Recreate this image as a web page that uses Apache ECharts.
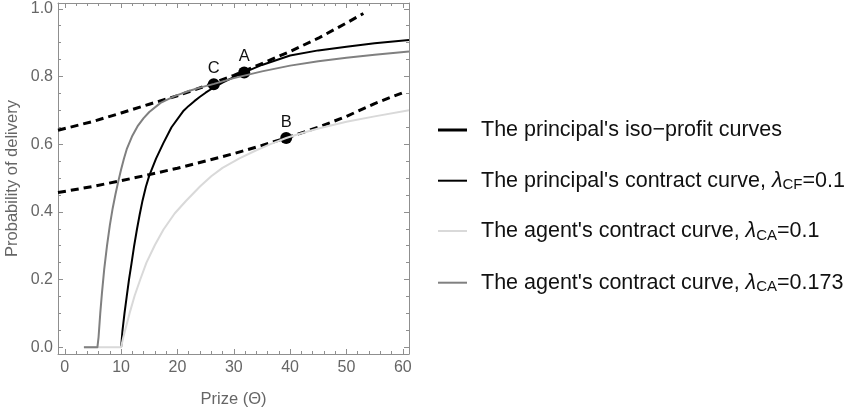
<!DOCTYPE html>
<html>
<head>
<meta charset="utf-8">
<script src="https://cdn.jsdelivr.net/npm/echarts@6/dist/echarts.min.js"></script>
<style>
html,body{margin:0;padding:0;background:#fff;}
#chart{width:847px;height:414px;}
</style>
</head>
<body>
<div id="chart"></div>
<script>
// ---- data ----
const xMajorTicks = [0, 10, 20, 30, 40, 50, 60];
const xMinorTicks = [0, 2, 4, 6, 8, 10, 12, 14, 16, 18, 20, 22, 24, 26, 28, 30, 32, 34, 36, 38, 40, 42, 44, 46, 48, 50, 52, 54, 56, 58, 60];
const yMajorTicks = [0, 0.2, 0.4, 0.6, 0.8, 1.0];
const yMinorTicks = [0, 0.05, 0.1, 0.15, 0.2, 0.25, 0.3, 0.35, 0.4, 0.45, 0.5, 0.55, 0.6, 0.65, 0.7, 0.75, 0.8, 0.85, 0.9, 0.95, 1.0];

// principal's iso-profit curves (dashed)
const isoUpperX = [-1.2, 5, 10, 15, 20, 25, 30, 35, 40, 45, 50, 53];
const isoUpperY = [0.641, 0.667, 0.692, 0.718, 0.743, 0.772, 0.803, 0.838, 0.874, 0.913, 0.958, 0.986];
const isoLowerX = [-1.2, 5, 10, 15, 20, 25, 30, 35, 40, 45, 50, 55, 60];
const isoLowerY = [0.457, 0.475, 0.492, 0.510, 0.529, 0.550, 0.572, 0.596, 0.622, 0.650, 0.682, 0.720, 0.752];

// principal's contract curve, lambda_CF = 0.1
const principalX = [10, 10.25, 10.6, 11.0, 11.4, 11.85, 12.3, 12.8, 13.3, 13.8, 14.4, 15.0, 16.2, 17.5, 18.95, 21, 22, 23, 24, 25, 26.5, 28, 30, 31.85, 35, 40, 45, 50, 55, 61.1];
const principalY = [0, 0.05, 0.1, 0.15, 0.2, 0.248, 0.298, 0.347, 0.392, 0.433, 0.474, 0.507, 0.557, 0.603, 0.650, 0.697, 0.713, 0.727, 0.740, 0.752, 0.768, 0.782, 0.798, 0.812, 0.834, 0.862, 0.877, 0.888, 0.898, 0.908];

// agent's contract curve, lambda_CA = 0.1
const agent1X = [3.4, 10, 10.4, 10.8, 11.5, 12.4, 13.4, 14.5, 16, 17.5, 19.5, 21.5, 24, 26, 28, 31, 34, 36.5, 39.3, 42, 45, 50, 55, 61.1];
const agent1Y = [0, 0, 0.03, 0.055, 0.1, 0.152, 0.2, 0.25, 0.302, 0.347, 0.395, 0.432, 0.475, 0.505, 0.530, 0.558, 0.582, 0.600, 0.618, 0.632, 0.646, 0.666, 0.682, 0.700];

// agent's contract curve, lambda_CA = 0.173
const agent2X = [3.4, 5.8, 6.0, 6.3, 6.6, 7.0, 7.5, 8.0, 8.5, 9.0, 9.5, 10.0, 10.5, 11.0, 12.0, 13.0, 14.0, 15.0, 17.0, 19.5, 22.0, 24.0, 26.5, 30, 35, 40, 45, 50, 55, 61.1];
const agent2Y = [0, 0, 0.03, 0.10, 0.16, 0.23, 0.30, 0.36, 0.41, 0.452, 0.49, 0.525, 0.557, 0.585, 0.625, 0.655, 0.677, 0.695, 0.722, 0.742, 0.757, 0.767, 0.778, 0.795, 0.815, 0.832, 0.845, 0.855, 0.864, 0.874];

// labelled points
const pointX = [31.85, 39.3, 26.45];
const pointY = [0.812, 0.618, 0.777];
const pointLabels = ['A', 'B', 'C'];

const seriesNames = [
  "The principal's iso\u2212profit curves",
  "The principal's contract curve, \u03bbCF=0.1",
  "The agent's contract curve, \u03bbCA=0.1",
  "The agent's contract curve, \u03bbCA=0.173"
];
const legendTexts = [
  "The principal's iso\u2212profit curves",
  "The principal's contract curve, {l|\u03bb}{s|CF}=0.1",
  "The agent's contract curve, {l|\u03bb}{s|CA}=0.1",
  "The agent's contract curve, {l|\u03bb}{s|CA}=0.173"
];

// ---- chart ----
const zip = (xs, ys) => xs.map((x, i) => [x, ys[i]]);
const FONT = 'Liberation Sans, Arial, sans-serif';
const frameColor = '#8f8f8f';
const labelColor = '#666666';
const xMin = -1.2, xMax = 61.1, yMin = -0.02, yMax = 1.017;

function xAxisDef(pos, ticks, len, labels, line) {
  return {
    type: 'value', position: pos, min: xMin, max: xMax,
    axisLine: { show: line, onZero: false, lineStyle: { color: frameColor, width: 1 } },
    axisTick: { show: true, inside: true, length: len, customValues: ticks, lineStyle: { color: frameColor, width: 1 } },
    axisLabel: labels ? { show: true, customValues: ticks, color: labelColor, fontSize: 16, fontFamily: FONT, margin: 6 } : { show: false },
    splitLine: { show: false }, minorTick: { show: false }
  };
}
function yAxisDef(pos, ticks, len, labels, line) {
  return {
    type: 'value', position: pos, min: yMin, max: yMax,
    axisLine: { show: line, onZero: false, lineStyle: { color: frameColor, width: 1 } },
    axisTick: { show: true, inside: true, length: len, customValues: ticks, lineStyle: { color: frameColor, width: 1 } },
    axisLabel: labels ? { show: true, customValues: ticks, color: labelColor, fontSize: 16, fontFamily: FONT, margin: 5,
      formatter: v => v.toFixed(1) } : { show: false },
    splitLine: { show: false }, minorTick: { show: false }
  };
}

const xAxes = [
  Object.assign(xAxisDef('bottom', xMajorTicks, 5, true, true), {
    name: 'Prize (\u0398)', nameLocation: 'middle', nameGap: 37,
    nameTextStyle: { color: labelColor, fontSize: 16.5, fontFamily: FONT }
  }),
  xAxisDef('bottom', xMinorTicks, 3, false, false),
  xAxisDef('top', xMajorTicks, 5, false, true),
  xAxisDef('top', xMinorTicks, 3, false, false)
];
const yAxes = [
  Object.assign(yAxisDef('left', yMajorTicks, 5, true, true), {
    name: 'Probability of delivery', nameLocation: 'middle', nameGap: 37,
    nameTextStyle: { color: labelColor, fontSize: 16.5, fontFamily: FONT }
  }),
  yAxisDef('left', yMinorTicks, 3, false, false),
  yAxisDef('right', yMajorTicks, 5, false, true),
  yAxisDef('right', yMinorTicks, 3, false, false)
];

const lineSeries = (name, data, color, width, type) => ({
  type: 'line', name: name, data: data, symbol: 'none', smooth: false,
  xAxisIndex: 0, yAxisIndex: 0,
  lineStyle: { color: color, width: width, type: type, cap: 'butt', join: 'round' },
  itemStyle: { color: color },
  emphasis: { disabled: true }, silent: true
});

const legendCenters = [130, 180.7, 231, 282.7];
const legendWidths = [3, 2, 2, 2];
const legendColors = ['#000000', '#000000', '#d9d9d9', '#808080'];
const legends = seriesNames.map((n, i) => ({
  data: [{ name: n, icon: 'rect', itemStyle: { color: legendColors[i] } }],
  left: 438, top: legendCenters[i] - 13, padding: 0,
  orient: 'vertical', itemWidth: 29, itemHeight: legendWidths[i], selectedMode: false,
  formatter: () => legendTexts[i],
  textStyle: {
    color: '#111111', fontSize: 21.5, fontFamily: FONT, lineHeight: 26, padding: [0, 0, 0, 9],
    rich: {
      l: { fontSize: 21.5, fontStyle: 'italic', fontFamily: FONT, color: '#111111', lineHeight: 26 },
      s: { fontSize: 15, fontFamily: FONT, color: '#111111', lineHeight: 15, verticalAlign: 'bottom', padding: [0, 0, 1, 0] }
    }
  }
}));

const option = {
  animation: false,
  backgroundColor: '#ffffff',
  grid: { left: 58, right: 438, top: 3, bottom: 60, containLabel: false },
  xAxis: xAxes,
  yAxis: yAxes,
  legend: legends,
  series: [
    lineSeries(seriesNames[0], zip(isoUpperX, isoUpperY), '#000000', 3, [8, 5]),
    lineSeries(seriesNames[0], zip(isoLowerX, isoLowerY), '#000000', 3, [8, 5]),
    lineSeries(seriesNames[1], zip(principalX, principalY), '#000000', 2, 'solid'),
    lineSeries(seriesNames[2], zip(agent1X, agent1Y), '#d9d9d9', 2, 'solid'),
    lineSeries(seriesNames[3], zip(agent2X, agent2Y), '#808080', 2, 'solid'),
    {
      type: 'scatter', name: 'points', symbol: 'circle', symbolSize: 12,
      xAxisIndex: 0, yAxisIndex: 0, silent: true,
      itemStyle: { color: '#000000', opacity: 1 },
      data: pointX.map((x, i) => ({ value: [x, pointY[i]], name: pointLabels[i] })),
      label: { show: true, position: 'top', distance: 1, formatter: p => p.name,
        color: '#111111', fontSize: 16.5, fontFamily: FONT }
    }
  ]
};

const chart = echarts.init(document.getElementById('chart'), null, { renderer: 'canvas' });
chart.setOption(option);
</script>
</body>
</html>
